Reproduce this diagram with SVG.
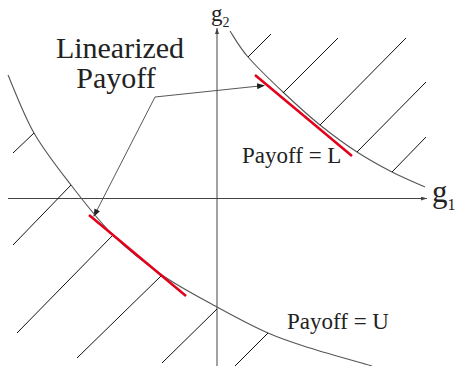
<svg xmlns="http://www.w3.org/2000/svg" width="455" height="366" viewBox="0 0 455 366">
<style>
.axis{stroke:#444;stroke-width:1;fill:none}
.curve{stroke:#555;stroke-width:1.1;fill:none}
.hatch{stroke:#111;stroke-width:1;fill:none}
.red{stroke:#e3001b;stroke-width:2.5;fill:none}
.ptr{stroke:#444;stroke-width:0.9;fill:none}
.lbl{fill:#222}
</style>
<defs>
<marker id="ah" markerWidth="8" markerHeight="6" refX="7" refY="3" orient="auto" markerUnits="userSpaceOnUse">
<path d="M0,0 L8,3 L0,6 Z" fill="#222"/>
</marker>
<marker id="axh" markerWidth="6" markerHeight="4" refX="6" refY="2" orient="auto" markerUnits="userSpaceOnUse">
<path d="M0,0 L6,2 L0,4 Z" fill="#444"/>
</marker>
</defs>
<g id="connectors">
<line class="axis" x1="8" y1="198.5" x2="427" y2="198.5" marker-end="url(#axh)"/>
<line class="axis" x1="217" y1="366" x2="217" y2="28" marker-end="url(#axh)"/>
<polyline class="ptr" points="155,97 264,85.5" marker-end="url(#ah)"/>
<polyline class="ptr" points="155,97 94,216" marker-end="url(#ah)"/>
</g>
<g font-family="'Liberation Serif', 'DejaVu Serif', 'Times New Roman', serif">
<g id="curve-L">
<path class="curve" d="M230,31 C233,35.3 239,46.7 248,57 C257,67.3 272,81.7 284,93 C296,104.3 307.8,115.2 320,125 C332.2,134.8 345,144.2 357,152 C369,159.8 380.7,166.2 392,172 C403.3,177.8 419.5,184.5 425,187"/>
<line class="hatch" x1="248" y1="57" x2="271" y2="34"/>
<line class="hatch" x1="283" y1="93" x2="338" y2="38"/>
<line class="hatch" x1="320" y1="125" x2="406" y2="38"/>
<line class="hatch" x1="357" y1="152" x2="426" y2="82"/>
<line class="hatch" x1="392" y1="172" x2="426" y2="137"/>
<line class="red" x1="255" y1="75" x2="352" y2="156"/>
<text class="lbl" x="242" y="163" font-size="23">Payoff = L</text>
</g>
<g id="curve-U">
<path class="curve" d="M8,75 C12.3,84.7 23.5,114.7 34,133 C44.5,151.3 57.8,168 71,185 C84.2,202 97.8,220 113,235 C128.2,250 144.7,263 162,275 C179.3,287 199.3,297.3 217,307 C234.7,316.7 252.5,326.2 268,333 C283.5,339.8 292.7,342.5 310,348 C327.3,353.5 361.7,363 372,366"/>
<line class="hatch" x1="34" y1="133" x2="13" y2="153"/>
<line class="hatch" x1="71" y1="185" x2="13" y2="245"/>
<line class="hatch" x1="113" y1="235" x2="17" y2="333"/>
<line class="hatch" x1="162" y1="275" x2="77" y2="358"/>
<line class="hatch" x1="217" y1="309" x2="162" y2="363"/>
<line class="hatch" x1="268" y1="333" x2="235" y2="366"/>
<line class="red" x1="89" y1="215" x2="186" y2="296"/>
<text class="lbl" x="287" y="329" font-size="23">Payoff = U</text>
</g>
<g id="label-linearized">
<text class="lbl" x="120" y="58" font-size="30" text-anchor="middle">Linearized</text>
<text class="lbl" x="116" y="88" font-size="30" text-anchor="middle">Payoff</text>
</g>
<g id="label-g2">
<text class="lbl" x="211" y="21" font-size="23">g<tspan font-size="14" dy="6">2</tspan></text>
</g>
<g id="label-g1">
<text class="lbl" x="432" y="202" font-size="31">g<tspan font-size="16" dy="8">1</tspan></text>
</g>
</g>
</svg>
